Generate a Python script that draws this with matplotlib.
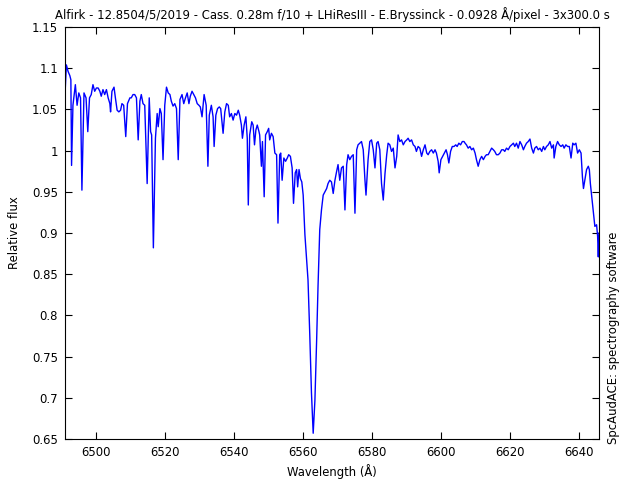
import matplotlib
matplotlib.use("Agg")
import matplotlib.pyplot as plt

# wavelength (A) and relative flux
wavelength = [
    6491.1, 6491.5, 6492.0, 6492.5, 6492.8, 6493.0, 6493.4, 6494.1, 6494.6, 6495.1,
    6495.6, 6496.0, 6496.6, 6497.2, 6497.7, 6498.2, 6498.7, 6499.2, 6499.7, 6500.2,
    6500.7, 6501.2, 6501.6, 6502.1, 6502.6, 6503.1, 6503.6, 6504.1, 6504.3, 6504.7,
    6505.3, 6505.7, 6506.2, 6506.7, 6507.2, 6507.6, 6508.1, 6508.7, 6509.2, 6509.9,
    6510.3, 6510.8, 6511.3, 6511.8, 6512.3, 6512.8, 6513.2, 6513.7, 6514.2, 6514.9,
    6515.5, 6515.9, 6516.2, 6516.7, 6517.3, 6517.8, 6518.1, 6518.6, 6519.0, 6519.5,
    6520.0, 6520.5, 6521.0, 6521.5, 6521.9, 6522.4, 6522.9, 6523.4, 6523.9, 6524.4,
    6525.0, 6525.5, 6526.0, 6526.5, 6527.0, 6527.4, 6527.9, 6528.4, 6528.9, 6529.4,
    6529.9, 6530.3, 6530.8, 6531.4, 6532.0, 6532.5, 6532.9, 6533.5, 6534.0, 6534.3,
    6534.8, 6535.3, 6535.8, 6536.2, 6536.9, 6537.4, 6537.9, 6538.4, 6538.8, 6539.3,
    6539.8, 6540.3, 6540.8, 6541.3, 6541.7, 6542.2, 6542.5, 6543.0, 6543.5, 6543.9,
    6544.2, 6544.6, 6545.2, 6545.6, 6546.0, 6546.4, 6546.8, 6547.3, 6547.5, 6548.0,
    6548.3, 6548.8, 6549.2, 6549.7, 6550.1, 6550.4, 6550.9, 6551.4, 6551.9, 6552.4,
    6552.8, 6553.3, 6553.6, 6554.0, 6554.5, 6555.0, 6555.5, 6555.9, 6556.4, 6556.9,
    6557.3, 6557.8, 6558.2, 6558.5, 6558.9, 6559.3, 6559.7, 6560.1, 6560.6, 6561.1,
    6561.5, 6562.0, 6562.5, 6563.0, 6563.5, 6564.0, 6564.4, 6564.9, 6565.4, 6565.9,
    6566.4, 6566.9, 6567.3, 6567.8, 6568.3, 6568.8, 6569.3, 6569.8, 6570.2, 6570.7,
    6571.2, 6571.7, 6572.2, 6572.7, 6573.1, 6573.6, 6574.1, 6574.6, 6575.1, 6575.6,
    6576.0, 6576.5, 6577.0, 6577.5, 6578.0, 6578.3, 6578.9, 6579.4, 6579.9, 6580.4,
    6580.9, 6581.4, 6581.8, 6582.3, 6582.8, 6583.3, 6583.8, 6584.3, 6584.7, 6585.2,
    6585.7, 6586.2, 6586.7, 6587.2, 6587.6, 6588.1, 6588.6, 6589.1, 6589.6, 6590.1,
    6590.5, 6591.0, 6591.5, 6592.0, 6592.5, 6592.9, 6593.4, 6593.9, 6594.4, 6594.9,
    6595.4, 6595.9, 6596.3, 6596.8, 6597.3, 6597.8, 6598.3, 6598.7, 6599.2, 6599.5,
    6600.0, 6600.5, 6601.0, 6601.5, 6601.9, 6602.3, 6602.8, 6603.3, 6603.8, 6604.3,
    6604.7, 6605.2, 6605.7, 6606.2, 6606.7, 6607.0, 6607.4, 6607.9, 6608.4, 6608.9,
    6609.4, 6609.9, 6610.3, 6610.8, 6611.3, 6611.8, 6612.3, 6612.8, 6613.2, 6613.7,
    6614.2, 6614.7, 6615.2, 6615.6, 6616.1, 6616.6, 6617.1, 6617.6, 6618.1, 6618.5,
    6619.0, 6619.5, 6620.0, 6620.5, 6621.0, 6621.4, 6621.9, 6622.4, 6622.9, 6623.4,
    6623.9, 6624.3, 6624.8, 6625.3, 6625.8, 6626.3, 6626.8, 6627.2, 6627.7, 6628.2,
    6628.7, 6629.2, 6629.7, 6630.1, 6630.6, 6631.1, 6631.6, 6632.1, 6632.6, 6632.8,
    6633.3, 6633.8, 6634.3, 6634.8, 6635.3, 6635.7, 6636.2, 6636.7, 6637.2, 6637.7,
    6638.2, 6638.6, 6639.1, 6639.6, 6640.1, 6640.6, 6641.0, 6641.3, 6641.7, 6642.2,
    6642.7, 6643.0, 6643.3, 6643.7, 6644.0, 6644.3, 6644.6, 6645.1, 6645.4, 6645.6,
    6645.8,
]
flux = [
    1.068, 1.104, 1.096, 1.091, 1.086, 0.982, 1.055, 1.080, 1.055, 1.070,
    1.064, 0.952, 1.070, 1.064, 1.023, 1.064, 1.068, 1.080, 1.072, 1.076,
    1.076, 1.072, 1.066, 1.074, 1.068, 1.074, 1.064, 1.057, 1.047, 1.072,
    1.077, 1.064, 1.049, 1.047, 1.049, 1.057, 1.055, 1.017, 1.057, 1.064,
    1.064, 1.068, 1.068, 1.064, 1.013, 1.060, 1.068, 1.057, 1.055, 0.960,
    1.064, 1.023, 1.019, 0.882, 1.015, 1.045, 1.029, 1.051, 1.045, 0.989,
    1.055, 1.077, 1.070, 1.068, 1.060, 1.054, 1.057, 1.051, 0.989, 1.062,
    1.068, 1.057, 1.064, 1.070, 1.057, 1.066, 1.072, 1.068, 1.064, 1.057,
    1.055, 1.053, 1.041, 1.068, 1.055, 0.981, 1.043, 1.055, 1.041, 1.005,
    1.043, 1.051, 1.053, 1.051, 1.021, 1.047, 1.057, 1.055, 1.041, 1.045,
    1.037, 1.045, 1.043, 1.049, 1.043, 1.031, 1.015, 1.031, 1.041, 1.015,
    0.934, 1.019, 1.035, 1.031, 1.007, 1.025, 1.031, 1.023, 1.019, 0.981,
    1.011, 0.944, 1.019, 1.023, 1.027, 1.013, 1.021, 1.017, 0.997, 0.995,
    0.912, 0.995, 0.997, 0.964, 0.991, 0.987, 0.991, 0.995, 0.993, 0.979,
    0.936, 0.973, 0.977, 0.956, 0.977, 0.966, 0.962, 0.946, 0.898, 0.867,
    0.843, 0.778, 0.706, 0.657, 0.697, 0.770, 0.835, 0.904, 0.928, 0.946,
    0.950, 0.954, 0.960, 0.964, 0.962, 0.948, 0.964, 0.975, 0.983, 0.964,
    0.979, 0.981, 0.928, 0.983, 0.995, 0.989, 0.993, 0.995, 0.924, 1.001,
    1.007, 1.009, 1.011, 1.001, 0.964, 0.946, 0.989, 1.011, 1.013, 1.001,
    0.979, 1.009, 1.011, 1.001, 0.960, 0.940, 0.972, 0.995, 1.009, 1.007,
    0.999, 1.003, 0.979, 0.993, 1.019, 1.011, 1.013, 1.007, 1.011, 1.013,
    1.015, 1.011, 1.013, 1.007, 1.005, 0.999, 1.005, 1.003, 0.993, 1.001,
    1.007, 0.997, 0.995, 0.999, 1.001, 0.997, 1.001, 0.997, 0.987, 0.973,
    0.989, 0.993, 0.997, 1.001, 0.995, 0.985, 0.999, 1.005, 1.005, 1.007,
    1.005, 1.009, 1.007, 1.011, 1.011, 1.009, 1.007, 1.003, 1.005, 1.001,
    1.003, 0.997, 0.989, 0.981, 0.989, 0.993, 0.989, 0.993, 0.995, 0.995,
    0.999, 1.003, 1.001, 0.999, 0.995, 0.995, 0.997, 1.001, 1.001, 0.999,
    1.003, 1.001, 1.005, 1.007, 1.009, 1.005, 1.009, 1.003, 1.011, 1.007,
    1.001, 1.005, 1.009, 1.011, 1.014, 1.003, 0.997, 1.003, 1.005, 1.001,
    1.003, 0.999, 1.005, 1.001, 1.005, 1.007, 1.011, 1.003, 1.007, 0.991,
    1.005, 1.011, 1.007, 1.005, 1.007, 1.003, 1.007, 1.005, 1.005, 0.991,
    1.009, 1.007, 1.009, 0.997, 1.001, 0.997, 0.968, 0.954, 0.964, 0.977,
    0.981, 0.977, 0.960, 0.944, 0.932, 0.920, 0.908, 0.910, 0.896, 0.871,
    0.900,
]

title = ("Alfirk - 12.8504/5/2019 - Cass. 0.28m f/10 + LHiResIII - E.Bryssinck"
         " - 0.0928 \u00c5/pixel - 3x300.0 s")

fs = 8.4
plt.rcParams['font.family'] = ['DejaVu Sans']
plt.rcParams['font.size'] = fs

fig = plt.figure(figsize=(6.4, 4.8), dpi=100)
ax = fig.add_axes([65 / 640, 1 - 439 / 480, 534 / 640, 412 / 480])
ax.plot(wavelength, flux, color='#0000ff', linewidth=1.0)

ax.set_xlim(6491.1, 6645.8)
ax.set_ylim(0.65, 1.15)
ax.set_xticks([6500, 6520, 6540, 6560, 6580, 6600, 6620, 6640])
ax.set_yticks([0.65, 0.7, 0.75, 0.8, 0.85, 0.9, 0.95, 1, 1.05, 1.1, 1.15])
ax.set_yticklabels(['0.65', '0.7', '0.75', '0.8', '0.85', '0.9', '0.95', '1',
                    '1.05', '1.1', '1.15'])
ax.tick_params(direction='in', length=5, width=0.8, top=True, right=True,
               pad=5, labelsize=fs)
for s in ax.spines.values():
    s.set_linewidth(0.8)

ax.set_title(title, fontsize=fs, pad=6)
ax.set_xlabel("Wavelength (\u00c5)", fontsize=fs, labelpad=4)
ax.set_ylabel("Relative flux", fontsize=fs, labelpad=8)
fig.text(614 / 640, 1 - 338 / 480, "SpcAudACE: spectrography software",
         rotation=90, ha='center', va='center', fontsize=fs)

fig.savefig("out.png", dpi=100)
